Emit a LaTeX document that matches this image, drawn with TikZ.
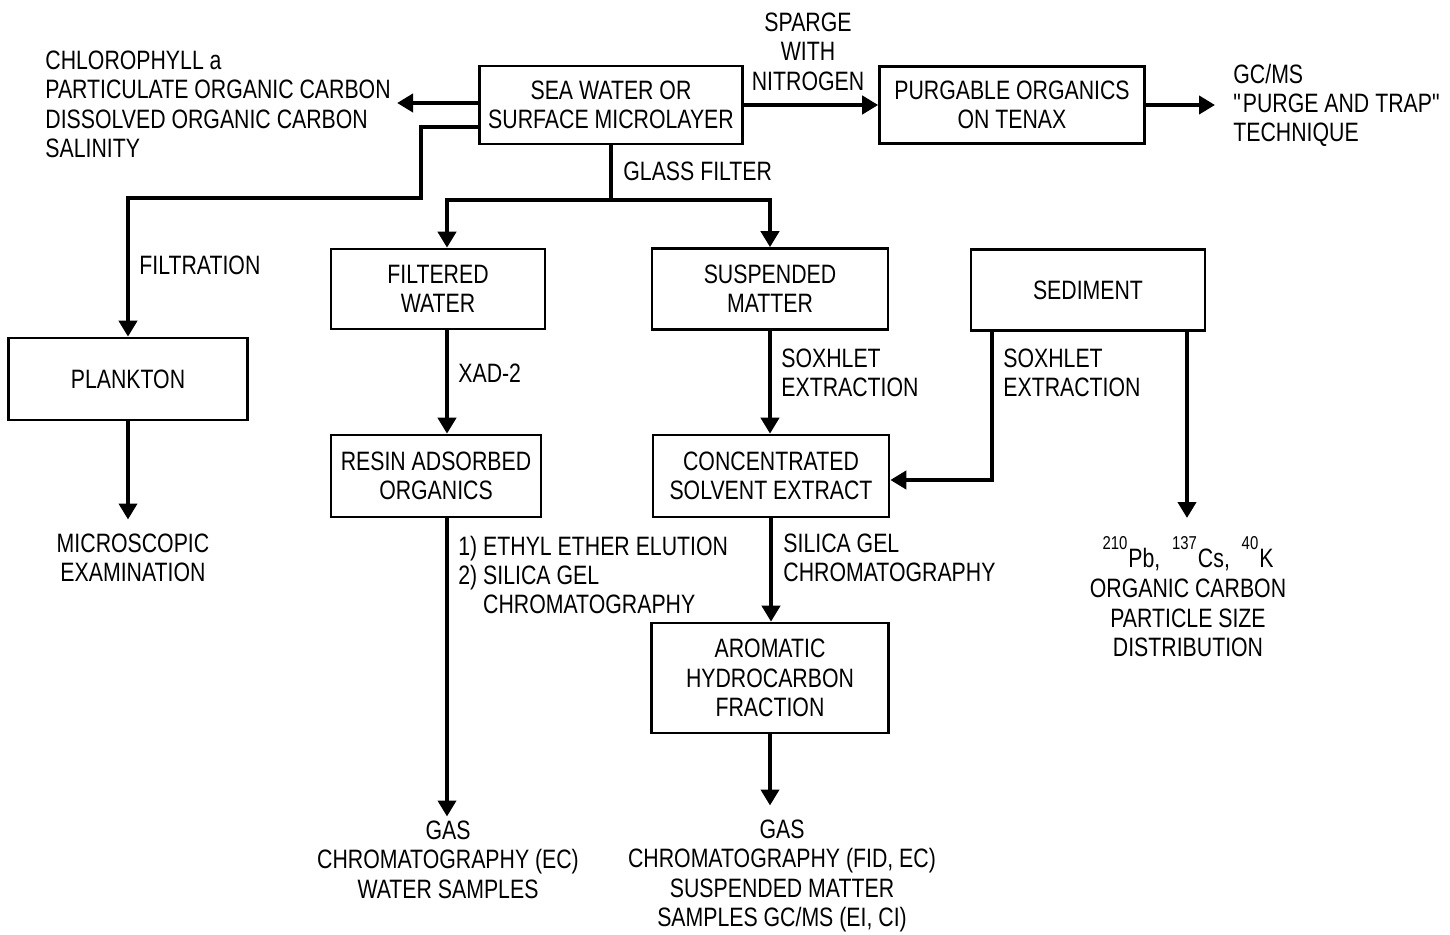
\documentclass[tikz,border=0pt]{standalone}
\usepackage{fontspec}
\setmainfont{Liberation Sans}[FakeStretch=0.8]
\usetikzlibrary{arrows.meta}

\begin{document}
\begin{tikzpicture}[x=0.5pt,y=-0.5pt,
  font=\fontsize{13.3}{14.7}\selectfont,
  box/.style={draw, line width=1.3pt, inner sep=0pt, align=center},
  arr/.style={line width=2pt, -{Triangle[length=8pt,width=9pt]}},
  flow/.style={line width=2pt},
  lbl/.style={inner sep=0pt, align=left, anchor=north west},
  clbl/.style={inner sep=0pt, align=center, anchor=north}]
\useasboundingbox (0,0) rectangle (1450,935);

\node[box, minimum width=131.5pt, minimum height=39pt] (SeaWater) at (611,105) {SEA WATER OR\\SURFACE MICROLAYER};
\node[box, minimum width=132.5pt, minimum height=38.5pt] (Purgable) at (1012,105) {PURGABLE ORGANICS\\ON TENAX};
\node[box, minimum width=107pt, minimum height=40pt] (Filtered) at (438,289) {FILTERED\\WATER};
\node[box, minimum width=118pt, minimum height=40.5pt] (Suspended) at (770,289) {SUSPENDED\\MATTER};
\node[box, minimum width=117pt, minimum height=40.5pt] (Sediment) at (1088,290) {SEDIMENT};
\node[box, minimum width=119.5pt, minimum height=41pt] (Plankton) at (128,379) {PLANKTON};
\node[box, minimum width=105pt, minimum height=41pt] (Resin) at (436,476) {RESIN ADSORBED\\ORGANICS};
\node[box, minimum width=118pt, minimum height=41pt] (Conc) at (771,476) {CONCENTRATED\\SOLVENT EXTRACT};
\node[box, minimum width=118.5pt, minimum height=55pt] (Aromatic) at (770,678) {AROMATIC\\HYDROCARBON\\FRACTION};

\node[lbl] (Chloro) at (45,50.5) {CHLOROPHYLL a\\PARTICULATE ORGANIC CARBON\\DISSOLVED ORGANIC CARBON\\SALINITY};
\node[clbl] (Sparge) at (808,12.5) {SPARGE\\WITH\\NITROGEN};
\node[lbl] (GcMs) at (1233,63.5) {GC/MS\\\textquotedbl PURGE AND TRAP\textquotedbl\\TECHNIQUE};
\node[lbl] (Glass) at (623,161.5) {GLASS FILTER};
\node[lbl] (Filtration) at (139,255.5) {FILTRATION};
\node[lbl] (Xad) at (458,363.5) {XAD-2};
\node[lbl] (SoxSusp) at (781,348.5) {SOXHLET\\EXTRACTION};
\node[lbl] (SoxSed) at (1003,348.5) {SOXHLET\\EXTRACTION};
\node[lbl] (Elution) at (458,535.5) {1) ETHYL ETHER ELUTION\\2) SILICA GEL\\\phantom{2) }CHROMATOGRAPHY};
\node[lbl] (Silica) at (783,533.5) {SILICA GEL\\CHROMATOGRAPHY};
\node[clbl] (Micro) at (133,533.5) {MICROSCOPIC\\EXAMINATION};
\node[clbl] (WaterGC) at (448,820.5) {GAS\\CHROMATOGRAPHY (EC)\\WATER SAMPLES};
\node[clbl] (SuspGC) at (782,819.5) {GAS\\CHROMATOGRAPHY (FID, EC)\\SUSPENDED MATTER\\SAMPLES GC/MS (EI, CI)};
\node[clbl] (SedResults) at (1188,536) {\textsuperscript{210}\raisebox{-0.3em}{Pb,}\ \ \textsuperscript{137}\raisebox{-0.3em}{Cs,}\ \ \textsuperscript{40}\raisebox{-0.3em}{K}\\[3pt]ORGANIC CARBON\\PARTICLE SIZE\\DISTRIBUTION};

\draw[arr, shorten >=3pt] ([yshift=1pt]SeaWater.west) -- ([yshift=1pt]SeaWater.west -| Chloro.east);
\draw[arr] ([yshift=-11pt]SeaWater.west) -| (421,198) -| (Plankton.north);
\draw[arr] (SeaWater.east) -- (Purgable.west);
\draw[arr, shorten >=9pt] (Purgable.east) -- (Purgable.east -| GcMs.west);
\draw[flow] (SeaWater.south) -- (611,200) coordinate (Split);
\draw[arr] (Split) -| ([xshift=4.5pt]Filtered.north);
\draw[arr] (Split) -| (Suspended.north);
\draw[arr] ([xshift=4.5pt]Filtered.south) -- ([xshift=4.5pt]Filtered.south |- Resin.north);
\draw[arr] (Suspended.south) -- (Suspended.south |- Conc.north);
\draw[arr] ([xshift=-48pt]Sediment.south) |- ([yshift=-2pt]Conc.east);
\draw[arr, shorten >=9pt] ([xshift=49.5pt]Sediment.south) -- ([xshift=49.5pt]Sediment.south |- SedResults.north);
\draw[arr, shorten >=7pt] (Plankton.south) -- (Plankton.south |- Micro.north);
\draw[arr, shorten >=2pt] ([xshift=5.5pt]Resin.south) -- ([xshift=5.5pt]Resin.south |- WaterGC.north);
\draw[arr] (Conc.south) -- (Conc.south |- Aromatic.north);
\draw[arr, shorten >=7pt] (Aromatic.south) -- (Aromatic.south |- SuspGC.north);
\end{tikzpicture}
\end{document}
